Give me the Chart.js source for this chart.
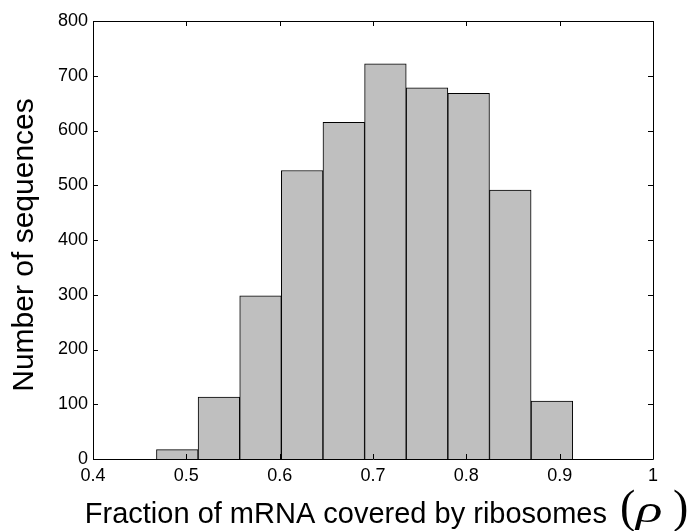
<!DOCTYPE html>
<html>
<head>
<meta charset="utf-8">
<script src="https://cdn.jsdelivr.net/npm/chart.js@4/dist/chart.umd.min.js"></script>
<style>
  html, body { margin: 0; padding: 0; background: #fff; }
  #wrap { width: 695px; height: 531px; }
</style>
</head>
<body>
<div id="wrap"><canvas id="hist"></canvas></div>
<script>
// bin centres (fraction rho) and counts
const binCenters = [0.4903, 0.5349, 0.5795, 0.6241, 0.6687, 0.7133, 0.7579, 0.8025, 0.8471, 0.8917];
const counts = [17, 113, 298, 527, 615, 722, 678, 668, 491, 106];
const xTicks = [0.4, 0.5, 0.6, 0.7, 0.8, 0.9, 1];
const yTicks = [0, 100, 200, 300, 400, 500, 600, 700, 800];

const FONT = "'Liberation Sans', Arial, Helvetica, sans-serif";

// box around the plot + inward ticks on all four sides, plus axis titles
const frame = {
  id: "frame",
  afterDraw(chart) {
    const { ctx, chartArea: a, scales } = chart;
    ctx.save();
    ctx.strokeStyle = "#000";
    ctx.lineWidth = 1;
    ctx.beginPath();
    ctx.rect(Math.round(a.left) + 0.5, Math.round(a.top) + 0.5,
             Math.round(a.right - a.left), Math.round(a.bottom - a.top));
    ctx.stroke();
    const tl = 5;
    ctx.beginPath();
    xTicks.forEach(v => {
      const px = Math.round(scales.x.getPixelForValue(v)) + 0.5;
      ctx.moveTo(px, a.bottom); ctx.lineTo(px, a.bottom - tl);
      ctx.moveTo(px, a.top); ctx.lineTo(px, a.top + tl);
    });
    yTicks.forEach(v => {
      const py = Math.round(scales.y.getPixelForValue(v)) + 0.5;
      ctx.moveTo(a.left, py); ctx.lineTo(a.left + tl, py);
      ctx.moveTo(a.right, py); ctx.lineTo(a.right - tl, py);
    });
    ctx.stroke();

    // y title
    ctx.fillStyle = "#000";
    ctx.save();
    ctx.translate(33, 245);
    ctx.rotate(-Math.PI / 2);
    ctx.font = "30px " + FONT;
    ctx.textAlign = "center";
    ctx.textBaseline = "alphabetic";
    ctx.fillText("Number of sequences", 0, 0);
    ctx.restore();

    // x title, with tall parens round an italic rho
    ctx.textBaseline = "alphabetic";
    ctx.textAlign = "right";
    ctx.font = "29px " + FONT;
    ctx.fillText("Fraction of mRNA covered by ribosomes", 607, 523);
    ctx.textAlign = "left";
    ctx.font = "46px 'Liberation Serif', serif";
    ctx.fillText("(", 620, 522);
    ctx.fillText(")", 673, 522);
    ctx.save();
    ctx.translate(636, 522);
    ctx.scale(1.45, 1);
    ctx.font = "italic 38px 'Liberation Serif', serif";
    ctx.fillText("\u03C1", 0, 0);
    ctx.restore();

    ctx.restore();
  }
};

new Chart(document.getElementById("hist"), {
  type: "bar",
  data: {
    datasets: [{
      data: binCenters.map((c, i) => ({ x: c, y: counts[i] })),
      backgroundColor: "#bfbfbf",
      borderColor: "#000",
      borderWidth: 1,
      barPercentage: 1,
      categoryPercentage: 1
    }]
  },
  options: {
    responsive: true,
    maintainAspectRatio: false,
    animation: false,
    layout: { padding: { top: 21, right: 42, left: 0, bottom: 0 } },
    plugins: { legend: { display: false }, tooltip: { enabled: false } },
    scales: {
      x: {
        type: "linear",
        offset: false,
        min: 0.4, max: 1,
        afterFit: s => { s.height = 72; },
        afterBuildTicks: s => { s.ticks = xTicks.map(v => ({ value: v })); },
        grid: { display: false, drawTicks: false, offset: false },
        border: { display: false },
        ticks: {
          color: "#000", padding: 6,
          font: { family: FONT, size: 18 },
          callback: v => String(v)
        }
      },
      y: {
        min: 0, max: 800,
        afterFit: s => { s.width = 93; },
        afterBuildTicks: s => { s.ticks = yTicks.map(v => ({ value: v })); },
        grid: { display: false, drawTicks: false },
        border: { display: false },
        ticks: {
          color: "#000", padding: 5,
          font: { family: FONT, size: 18 }
        }
      }
    }
  },
  plugins: [frame]
});
</script>
</body>
</html>
